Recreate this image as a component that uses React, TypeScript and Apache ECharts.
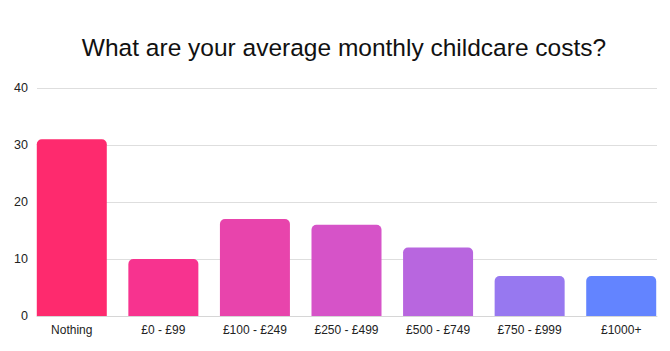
import React, { useEffect, useRef } from "react";
import * as echarts from "echarts";

const categories = ["Nothing", "£0 - £99", "£100 - £249", "£250 - £499", "£500 - £749", "£750 - £999", "£1000+"];
const values = [31, 10, 17, 16, 12, 7, 7];
const barColors = ["#FE2A6E", "#F7338F", "#E844AC", "#D653C8", "#B866DF", "#9778F0", "#6384FF"];
const yTicks = [0, 10, 20, 30, 40];

export default function App() {
  const ref = useRef<HTMLDivElement>(null);
  useEffect(() => {
    if (!ref.current) return;
    const chart = echarts.init(ref.current, undefined, { renderer: "svg" });
    const yMax = yTicks[yTicks.length - 1];
    chart.setOption({
      animation: false,
      backgroundColor: "#ffffff",
      title: {
        text: "What are your average monthly childcare costs?",
        left: 339,
        textAlign: "center",
        top: 30,
        textStyle: {
          fontFamily: "Liberation Sans, Arial, sans-serif",
          fontSize: 24.5,
          fontWeight: "normal",
          color: "#111111",
        },
      },
      grid: [
        { left: 26, right: 3, top: 88, bottom: 35 },
        { left: 37, right: 13, top: 88, bottom: 35 },
      ],
      xAxis: [
        {
          type: "category",
          gridIndex: 0,
          data: categories,
          axisLine: { show: false },
          axisTick: { show: false },
          axisLabel: {
            margin: 8,
            fontFamily: "Liberation Sans, Arial, sans-serif",
            fontSize: 12,
            color: "#222222",
          },
        },
        {
          type: "value",
          gridIndex: 1,
          min: 0,
          max: 1,
          axisLine: { show: true, lineStyle: { color: "#d6d6d6", width: 1 } },
          axisTick: { show: false },
          axisLabel: { show: false },
          splitLine: { show: false },
        },
      ],
      yAxis: [
        {
          type: "value",
          gridIndex: 0,
          min: 0,
          max: yMax,
          interval: 10,
          show: false,
          splitLine: { show: false },
        },
        {
          type: "value",
          gridIndex: 1,
          min: 0,
          max: yMax,
          interval: 10,
          axisLine: { show: false },
          axisTick: { show: false },
          axisLabel: {
            margin: 9,
            fontFamily: "Liberation Sans, Arial, sans-serif",
            fontSize: 12.5,
            color: "#222222",
          },
          splitLine: { show: true, lineStyle: { color: "#dedede", width: 1 } },
        },
      ],
      series: [
        {
          type: "bar",
          xAxisIndex: 0,
          yAxisIndex: 0,
          barWidth: 70,
          data: values.map((v, i) => ({
            value: v,
            itemStyle: { color: barColors[i], borderRadius: [5, 5, 0, 0] },
          })),
        },
      ],
    });
    return () => chart.dispose();
  }, []);
  return <div ref={ref} style={{ width: 670, height: 351, margin: -8 }} />;
}
